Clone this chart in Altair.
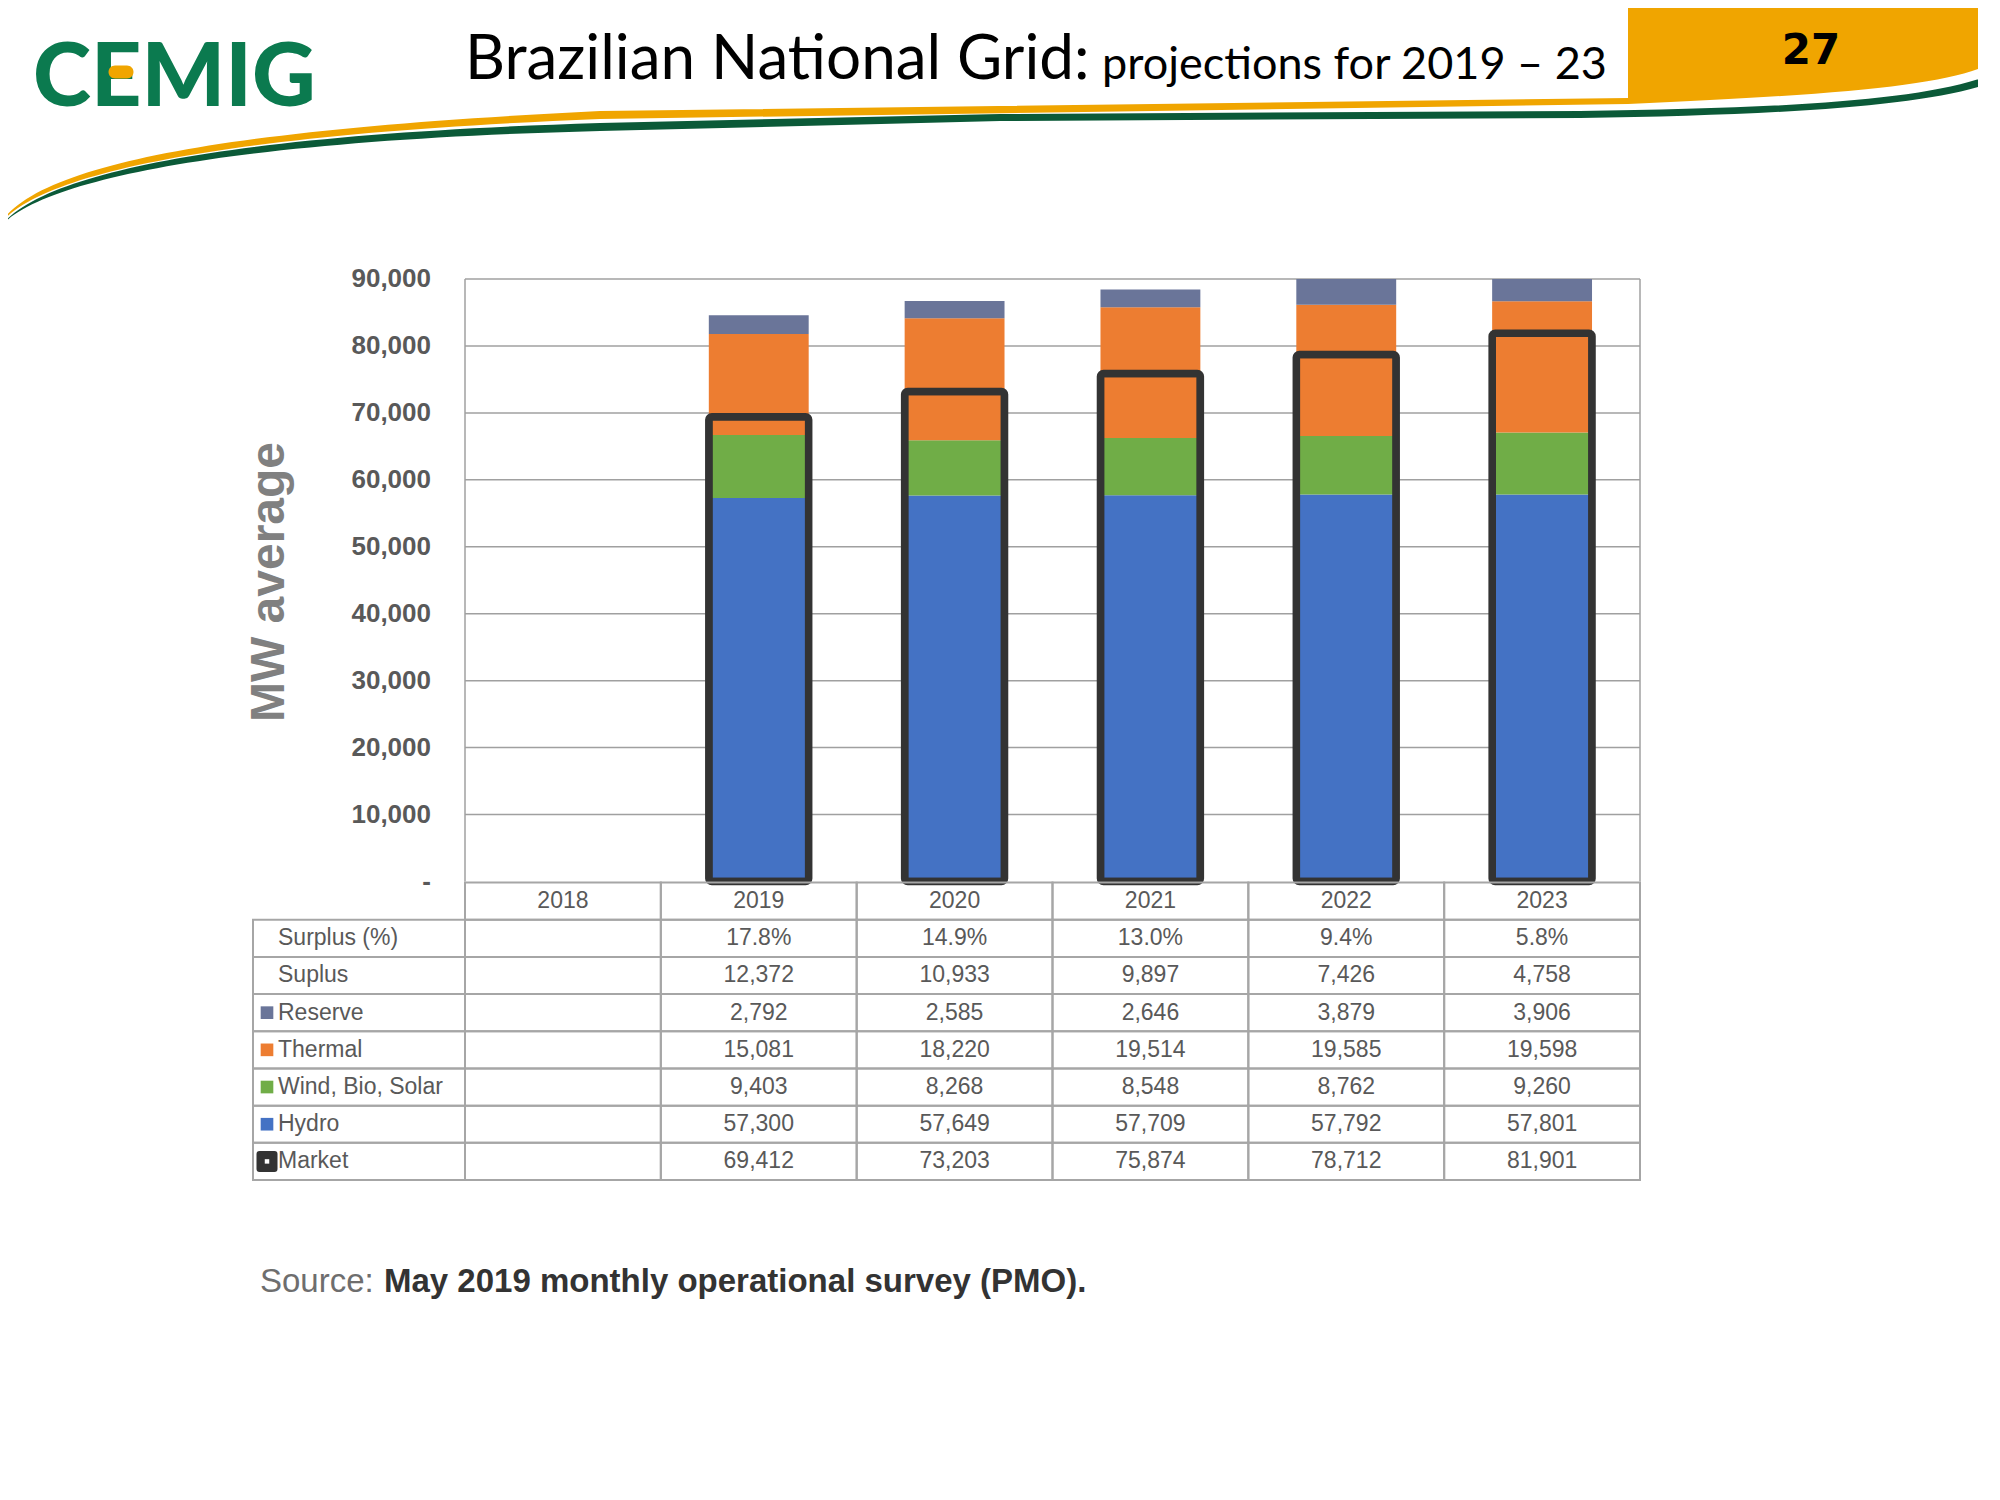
import altair as alt
import pandas as pd

# ---------------- data ----------------
YEARS = ["2018", "2019", "2020", "2021", "2022", "2023"]
PROJ_YEARS = ["2019", "2020", "2021", "2022", "2023"]
HYDRO = [57300, 57649, 57709, 57792, 57801]
WIND_BIO_SOLAR = [9403, 8268, 8548, 8762, 9260]
THERMAL = [15081, 18220, 19514, 19585, 19598]
RESERVE = [2792, 2585, 2646, 3879, 3906]
MARKET = [69412, 73203, 75874, 78712, 81901]
SUPLUS = [12372, 10933, 9897, 7426, 4758]
SURPLUS_PCT = [17.8, 14.9, 13.0, 9.4, 5.8]
Y_TICKS = [0, 10000, 20000, 30000, 40000, 50000, 60000, 70000, 80000, 90000]
SERIES = ["Hydro", "Wind, Bio, Solar", "Thermal", "Reserve"]
SERIES_COLORS = ["#4472C4", "#70AD47", "#ED7D31", "#6A7599"]
TABLE_ROWS = ["Surplus (%)", "Suplus", "Reserve", "Thermal", "Wind, Bio, Solar", "Hydro", "Market"]

TITLE_MAIN = "Brazilian National Grid:"
TITLE_SUB = "projections for 2019 \u2013 23"
PAGE_NO = "27"
Y_TITLE = "MW average"
SOURCE_LBL = "Source:"
SOURCE_TXT = "May 2019 monthly operational survey (PMO)."

# ---------------- layout (chart coords = page - 8) ----------------
X_L, X_R = 457, 1632
Y_TOP, Y_ZERO = 271, 873.5
TBL_TOP, TBL_BOT = 874.5, 1172
TBL_LEFT = 245

SANS = "Liberation Sans, Arial, sans-serif"
GRAY_TXT = "#595959"
GRID = "#A0A0A0"
BORDER = "#A6A6A6"

xs = alt.Scale(domain=YEARS, range=[X_L, X_R], paddingInner=0, paddingOuter=0)
ys = alt.Scale(domain=[0, 90000], range=[Y_ZERO, Y_TOP], clamp=True, nice=False, zero=True)
rs = alt.Scale(domain=["_hdr"] + TABLE_ROWS, range=[TBL_TOP, TBL_BOT], paddingInner=0, paddingOuter=0)
cs = alt.Scale(domain=SERIES, range=SERIES_COLORS)

# ---------------- tables built from arrays ----------------
series_vals = {"Hydro": HYDRO, "Wind, Bio, Solar": WIND_BIO_SOLAR, "Thermal": THERMAL, "Reserve": RESERVE}
bars = pd.DataFrame([
    {"year": y, "series": s, "value": series_vals[s][i], "order": k}
    for k, s in enumerate(SERIES) for i, y in enumerate(PROJ_YEARS)
])
market = pd.DataFrame({"year": PROJ_YEARS, "value": MARKET})
ticks = pd.DataFrame({"v": Y_TICKS, "label": ["-\u00a0\u00a0" if v == 0 else f"{v:,}" for v in Y_TICKS]})

row_vals = {
    "Surplus (%)": [f"{p:.1f}%" for p in SURPLUS_PCT],
    "Suplus": [f"{v:,}" for v in SUPLUS],
    "Reserve": [f"{v:,}" for v in RESERVE],
    "Thermal": [f"{v:,}" for v in THERMAL],
    "Wind, Bio, Solar": [f"{v:,}" for v in WIND_BIO_SOLAR],
    "Hydro": [f"{v:,}" for v in HYDRO],
    "Market": [f"{v:,}" for v in MARKET],
}
cells = pd.DataFrame([{"row": r, "year": y} for r in ["_hdr"] + TABLE_ROWS for y in YEARS])
cell_text = pd.DataFrame(
    [{"row": "_hdr", "year": y, "txt": y} for y in YEARS]
    + [{"row": r, "year": y, "txt": row_vals[r][i]} for r in TABLE_ROWS for i, y in enumerate(PROJ_YEARS)]
)
row_df = pd.DataFrame({"row": TABLE_ROWS})
legend_df = pd.DataFrame({"row": SERIES, "series": SERIES})
one = pd.DataFrame({"a": [0]})

X = alt.X("year:N", scale=xs, axis=None)

# ---------------- decorations ----------------
ORANGE_PATH = ("M 0 224 C 40 160 250 128 600 111 L 1628 98 L 1628 0 L 2010 0 L 2010 45 "
               "C 1995 80 1900 92 1628 104 L 600 119 C 250 133 45 168 0 224 Z")
GREEN_PATH = ("M 0 227 C 45 168 250 134 600 123 L 1000 114 L 1580 111 C 1800 108 1950 100 2010 66 "
              "L 2010 74 C 1960 104 1800 115 1580 118 L 1000 121 L 600 131 C 250 140 45 176 0 227 Z")
PILL_PATH = "M -6 -6.5 L 6 -6.5 A 6.5 6.5 0 0 1 6 6.5 L -6 6.5 A 6.5 6.5 0 0 1 -6 -6.5 Z"

orange = alt.Chart(one).mark_point(shape=ORANGE_PATH, size=4, filled=True, color="#F0A500",
                                   opacity=1, strokeWidth=0).encode(x=alt.value(-8), y=alt.value(-8))
green = alt.Chart(one).mark_point(shape=GREEN_PATH, size=4, filled=True, color="#0B5A38",
                                  opacity=1, strokeWidth=0).encode(x=alt.value(-8), y=alt.value(-8))
logo = alt.Chart(one).mark_text(text="CEMIG", font="Lato", fontWeight=900, fontSize=88, color="#0B7A4F",
                                align="left", baseline="alphabetic").encode(
    x=alt.value(25), y=alt.value(98))
pill = alt.Chart(one).mark_point(shape=PILL_PATH, size=4, filled=True, color="#F0A500",
                                 opacity=1, strokeWidth=0).encode(x=alt.value(113), y=alt.value(64))
title_main = alt.Chart(one).mark_text(text=TITLE_MAIN, font="Lato", fontSize=62, color="#000000",
                                      align="left", baseline="alphabetic").encode(
    x=alt.value(457), y=alt.value(71))
title_sub = alt.Chart(one).mark_text(text=TITLE_SUB, font="Lato", fontSize=45, color="#000000",
                                     align="left", baseline="alphabetic").encode(
    x=alt.value(1094), y=alt.value(71))
page_no = alt.Chart(one).mark_text(text=PAGE_NO, font="DejaVu Sans", fontWeight="bold", fontSize=42,
                                   color="#000000", align="center", baseline="alphabetic").encode(
    x=alt.value(1803), y=alt.value(56))

# ---------------- plot ----------------
grid = alt.Chart(ticks[ticks.v > 0]).mark_rule(color=GRID, strokeWidth=1.5).encode(
    y=alt.Y("v:Q", scale=ys, axis=None), x=alt.value(X_L), x2=alt.value(X_R))
frame_l = alt.Chart(pd.DataFrame({"year": [YEARS[0]]})).mark_rule(color=GRID, strokeWidth=1.5).encode(
    x=alt.X("year:N", scale=xs, axis=None, bandPosition=0), y=alt.value(Y_TOP), y2=alt.value(Y_ZERO))
frame_r = alt.Chart(pd.DataFrame({"year": [YEARS[-1]]})).mark_rule(color=GRID, strokeWidth=1.5).encode(
    x=alt.X("year:N", scale=xs, axis=None, bandPosition=1), y=alt.value(Y_TOP), y2=alt.value(Y_ZERO))

stack = alt.Chart(bars).mark_bar(width=alt.RelativeBandSize(0.51)).encode(
    x=X,
    y=alt.Y("value:Q", stack="zero", scale=ys, axis=None),
    color=alt.Color("series:N", scale=cs, legend=None),
    order=alt.Order("order:Q"),
)
outline = alt.Chart(market).mark_bar(width=alt.RelativeBandSize(0.51), fillOpacity=0, stroke="#333333",
                                     strokeWidth=7.5, cornerRadius=3).encode(
    x=X, y=alt.Y("value:Q", scale=ys, axis=None))

tick_lbl = alt.Chart(ticks).mark_text(font=SANS, fontWeight="bold", fontSize=26, color=GRAY_TXT,
                                      align="right", baseline="middle").encode(
    y=alt.Y("v:Q", scale=ys, axis=None), x=alt.value(423), text="label:N")
y_title = alt.Chart(one).mark_text(text=Y_TITLE, font=SANS, fontWeight="bold", fontSize=48,
                                   color="#808080", angle=270, align="center", baseline="middle"
                                   ).encode(x=alt.value(262), y=alt.value(574))

# ---------------- table ----------------
cell_rect = alt.Chart(cells).mark_rect(fillOpacity=0, stroke=BORDER, strokeWidth=2).encode(
    x=X, y=alt.Y("row:N", scale=rs, axis=None))
lbl_rect = alt.Chart(row_df).mark_rect(fillOpacity=0, stroke=BORDER, strokeWidth=2).encode(
    x=alt.value(TBL_LEFT), x2=alt.value(X_L), y=alt.Y("row:N", scale=rs, axis=None))
cell_txt = alt.Chart(cell_text).mark_text(font=SANS, fontSize=23, color=GRAY_TXT, align="center",
                                          baseline="middle").encode(
    x=X, y=alt.Y("row:N", scale=rs, axis=None), text="txt:N")
lbl_txt = alt.Chart(row_df).mark_text(font=SANS, fontSize=23, color=GRAY_TXT, align="left",
                                      baseline="middle").encode(
    x=alt.value(270), y=alt.Y("row:N", scale=rs, axis=None), text="row:N")
lgd = alt.Chart(legend_df).mark_square(size=160, opacity=1).encode(
    x=alt.value(259), y=alt.Y("row:N", scale=rs, axis=None),
    color=alt.Color("series:N", scale=cs, legend=None))
mk_icon = alt.Chart(pd.DataFrame({"row": ["Market"]})).mark_square(
    size=225, opacity=1, color="#333333", stroke="#333333", strokeWidth=6, strokeJoin="round").encode(
    x=alt.value(259), y=alt.Y("row:N", scale=rs, axis=None))
mk_dot = alt.Chart(pd.DataFrame({"row": ["Market"]})).mark_square(size=20, opacity=1, color="#FFFFFF").encode(
    x=alt.value(259), y=alt.Y("row:N", scale=rs, axis=None))

# ---------------- source ----------------
src_lbl = alt.Chart(one).mark_text(text=SOURCE_LBL, font=SANS, fontSize=33, color="#6E6E6E",
                                   align="left", baseline="middle").encode(
    x=alt.value(252), y=alt.value(1274))
src_txt = alt.Chart(one).mark_text(text=SOURCE_TXT, font=SANS, fontWeight="bold", fontSize=33,
                                   color="#333333", align="left", baseline="middle").encode(
    x=alt.value(376), y=alt.value(1274))

chart = alt.layer(
    orange, green, logo, pill, title_main, title_sub, page_no,
    grid, frame_l, frame_r, stack, outline, tick_lbl, y_title,
    cell_rect, lbl_rect, cell_txt, lbl_txt, lgd, mk_icon, mk_dot,
    src_lbl, src_txt,
).resolve_scale(y="independent").properties(
    width=1970, height=1470,
    autosize=alt.AutoSizeParams(type="none"),
    padding={"left": 0, "top": 0, "right": 0, "bottom": 0},
).configure_view(stroke=None)

chart.save("out.html", embed_options={"renderer": "svg", "actions": False})
